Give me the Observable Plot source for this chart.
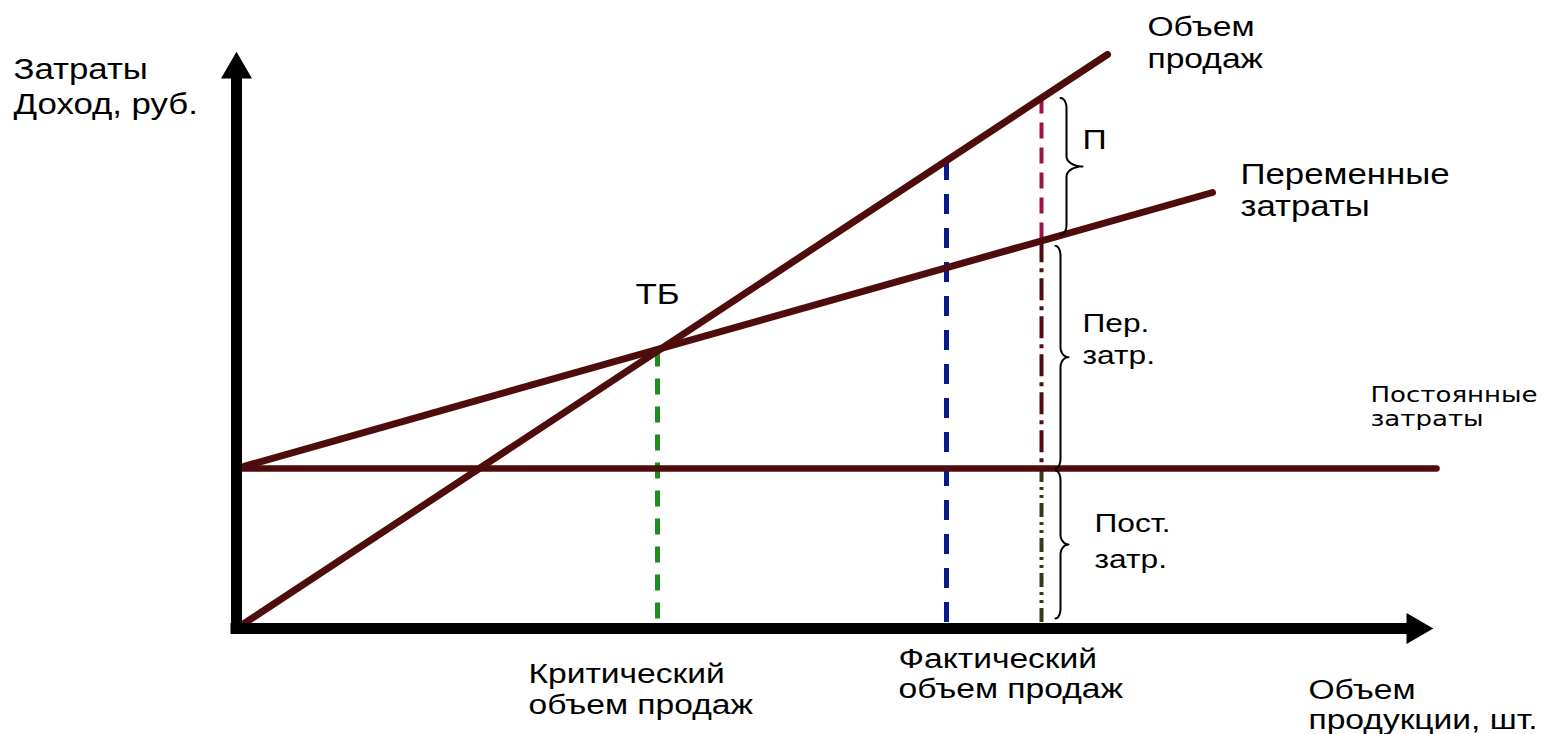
<!DOCTYPE html>
<html><head><meta charset="utf-8">
<script src="https://cdn.jsdelivr.net/npm/d3@7"></script>
<script src="https://cdn.jsdelivr.net/npm/@observablehq/plot@0.6"></script>
<style>html,body{margin:0;padding:0;background:#fff;overflow:hidden}</style>
</head><body><div id="chart"></div>
<script>
// ---- data (x: volume units, y: money units) ----
const salesX = [0, 87.1];
const salesY = [0, 57.4];
const totalCostX = [0, 97.6];
const totalCostY = [16, 43.6];
const fixedCostX = [0, 120];
const fixedCostY = [16, 16];
const criticalVolume = 42.1;   // ТБ
const factVolume = 71.0;       // blue
const reportVolume = 80.5;     // split line with braces
const axisEndX = 117;
const axisEndY = 55;

const labelTexts = ["Затраты\nДоход, руб.", "Объем\nпродаж", "П", "Переменные\nзатраты", "ТБ",
  "Пер.\nзатр.", "Постоянные\nзатраты", "Пост.\nзатр.", "Критический\nобъем продаж",
  "Фактический\nобъем продаж", "Объем\nпродукции, шт."];
const labelX = [-22.3, 91.1, 84.6, 100.4, 39.9, 84.6, 113.4, 85.8, 29.2, 66.2, 107.2];
const labelY = [51.5, 56.1, 48.0, 41.3, 32.5, 26.5, 20.3, 6.1, -8.5, -6.9, -10.0];

// ---- styles ----
const W = 1548, H = 734, mL = 236, mR = 112, mT = 53, mB = 106;
const xDomain = [0, 120], yDomain = [0, 57.5];
const PX = (xDomain[1] - xDomain[0]) / (W - mL - mR); // units per pixel
const lineColor = "#4f0c0c";
const font = "Liberation Sans, Arial, sans-serif";
const labelStyle = [
  {size: 29, lh: 1.2, s: 1.2}, {size: 28, lh: 1.14, s: 1.2}, {size: 28, lh: 1, s: 1.2},
  {size: 29, lh: 1.08, s: 1.2}, {size: 29, lh: 1, s: 1.2}, {size: 26, lh: 1.23, s: 1.22},
  {size: 21, lh: 1.1, s: 1.24, family: "DejaVu Sans, sans-serif"}, {size: 26, lh: 1.35, s: 1.22},
  {size: 28, lh: 1.1, s: 1.2}, {size: 28, lh: 1.07, s: 1.2}, {size: 28, lh: 1.07, s: 1.2}
];

function valueAt(xs, ys, x) {
  return ys[0] + (ys[1] - ys[0]) * (x - xs[0]) / (xs[1] - xs[0]);
}
const pts = (xs, ys) => xs.map((x, i) => ({x, y: ys[i]}));

const critTop = valueAt(salesX, salesY, criticalVolume);
const factTop = valueAt(salesX, salesY, factVolume);
const repSales = valueAt(salesX, salesY, reportVolume);
const repTotal = valueAt(totalCostX, totalCostY, reportVolume);
const repFixed = valueAt(fixedCostX, fixedCostY, reportVolume);

// braces: [top, bottom] ranges along the report volume
const braceTop = [repSales, repTotal - 0.5, repFixed - 0.2];
const braceBottom = [repTotal + 0.6, repFixed, 1.0];
const braceHookPx = [19, 14, 14], braceBodyPx = [6, 5, 5], braceTipPx = [22, 13, 13];

function bracePath(id, x0, yTop, yBot, bodyPx, tipPx) {
  const b = bodyPx * PX, t = tipPx * PX, r = 10 * PX, ym = (yTop + yBot) / 2;
  const out = [];
  const n = 8;
  for (let k = 0; k <= n; k++) { const th = Math.PI / 2 - (k / n) * Math.PI / 2;
    out.push({id, x: x0 + b * Math.cos(th), y: yTop - r + r * Math.sin(th)}); }
  for (let k = 0; k <= n; k++) { const th = Math.PI + (k / n) * Math.PI / 2;
    out.push({id, x: x0 + t + (t - b) * Math.cos(th), y: ym + r + r * Math.sin(th)}); }
  for (let k = 0; k <= n; k++) { const th = Math.PI / 2 + (k / n) * Math.PI / 2;
    out.push({id, x: x0 + t + (t - b) * Math.cos(th), y: ym - r + r * Math.sin(th)}); }
  for (let k = 0; k <= n; k++) { const th = (k / n) * Math.PI / 2;
    out.push({id, x: x0 + b * Math.cos(th), y: yBot + r - r * Math.sin(th)}); }
  return out;
}
const braces = braceTop.flatMap((t, i) =>
  bracePath(i, reportVolume + braceHookPx[i] * PX, t, braceBottom[i], braceBodyPx[i], braceTipPx[i]));

const triUp = {draw(c, size) { const y = Math.sqrt(size / (3 * Math.sqrt(3)));
  c.moveTo(0, -2 * y); c.lineTo(Math.sqrt(3) * y, y); c.lineTo(-Math.sqrt(3) * y, y); c.closePath(); }};
const triRight = {draw(c, size) { const y = Math.sqrt(size / (3 * Math.sqrt(3)));
  c.moveTo(2 * y, 0); c.lineTo(-y, Math.sqrt(3) * y); c.lineTo(-y, -Math.sqrt(3) * y); c.closePath(); }};
const arrowR = 11.5, arrowOff = 0.7776 * arrowR;

const marks = [
  Plot.ruleX([criticalVolume], {y1: critTop, y2: 0.6, stroke: "#1e8c1e", strokeWidth: 5, strokeDasharray: "16,12"}),
  Plot.ruleX([factVolume], {y1: factTop, y2: 0, stroke: "#0b1a8a", strokeWidth: 5, strokeDasharray: "20,14"}),
  Plot.ruleX([reportVolume], {y1: repSales, y2: repTotal, stroke: "#a0124a", strokeWidth: 4, strokeDasharray: "16,9"}),
  Plot.ruleX([reportVolume], {y1: repTotal, y2: repFixed, stroke: "#4f0c14", strokeWidth: 4, strokeDasharray: "22,6,4,6"}),
  Plot.ruleX([reportVolume], {y1: repFixed, y2: 0, stroke: "#3a3a18", strokeWidth: 4, strokeDasharray: "14,5,3,5,3,5"}),
  Plot.line(pts(fixedCostX, fixedCostY), {x: "x", y: "y", stroke: lineColor, strokeWidth: 6.5}),
  Plot.line(pts(totalCostX, totalCostY), {x: "x", y: "y", stroke: lineColor, strokeWidth: 7}),
  Plot.line(pts(salesX, salesY), {x: "x", y: "y", stroke: lineColor, strokeWidth: 7}),
  Plot.line(braces, {x: "x", y: "y", z: "id", stroke: "black", strokeWidth: 2, curve: "linear"}),
  Plot.ruleX([0], {y1: 0, y2: axisEndY, stroke: "black", strokeWidth: 11, strokeLinecap: "square"}),
  Plot.ruleY([0], {x1: 0, x2: axisEndX, stroke: "black", strokeWidth: 11, strokeLinecap: "square"}),
  Plot.dot([{x: 0, y: axisEndY}], {x: "x", y: "y", symbol: triUp, r: arrowR, fill: "black", stroke: "none", dy: -arrowOff}),
  Plot.dot([{x: axisEndX, y: 0}], {x: "x", y: "y", symbol: triRight, r: arrowR, fill: "black", stroke: "none", dx: arrowOff}),
  ...labelTexts.map((t, i) => Plot.text([{t, x: labelX[i], y: labelY[i]}], {
    x: "x", y: "y", text: "t", textAnchor: "start", lineAnchor: "bottom",
    fontSize: labelStyle[i].size, lineHeight: labelStyle[i].lh,
    fontFamily: labelStyle[i].family || font, fill: "black"
  }))
];

const svg = Plot.plot({
  width: W, height: H, marginLeft: mL, marginRight: mR, marginTop: mT, marginBottom: mB,
  x: {domain: xDomain, axis: null}, y: {domain: yDomain, axis: null},
  style: {background: "white", overflow: "visible"},
  marks
});
document.getElementById("chart").appendChild(svg);

// horizontal stretch of labels (the reference text is wide-set)
const groups = svg.querySelectorAll('g[aria-label="text"]');
groups.forEach((g, i) => {
  const s = labelStyle[i] ? labelStyle[i].s : 1;
  g.querySelectorAll("text").forEach(tx => {
    const tr = tx.getAttribute("transform") || "";
    tx.setAttribute("transform", tr + ` scale(${s},1)`);
  });
});
</script></body></html>
